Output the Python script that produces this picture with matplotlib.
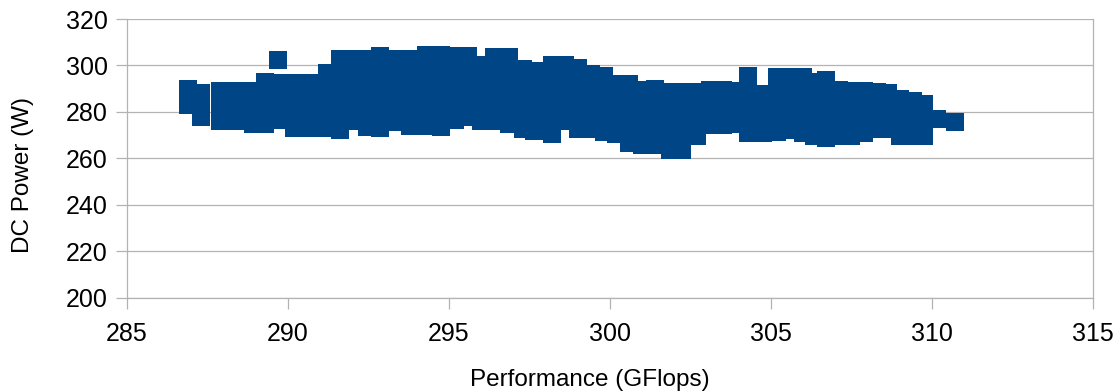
import numpy as np
import matplotlib
matplotlib.use("Agg")
import matplotlib.pyplot as plt

plt.rcParams["font.family"] = ["Liberation Sans", "DejaVu Sans"]

# Performance (GFlops) of each group of runs, and the DC power (W) measured for them
perf_cols = [
    286.9, 287.3, 287.9, 288.4, 288.9, 289.3, 289.7, 290.2, 290.7, 291.2,
    291.6, 292.0, 292.45, 292.85, 293.3, 293.8, 294.3, 294.75, 295.2, 295.6,
    296.0, 296.4, 296.85, 297.3, 297.65, 298.2, 298.6, 299.0, 299.4, 299.8,
    300.2, 300.6, 301.0, 301.4, 301.85, 302.25, 302.7, 303.1, 303.5, 303.9,
    304.3, 304.75, 305.2, 305.6, 306.0, 306.35, 306.7, 307.1, 307.5, 307.9,
    308.3, 308.65, 309.0, 309.4, 309.75, 310.15, 310.7,
]
power_cols = [
    [289.7, 283.0],
    [288.0, 282.5, 277.7],
    [289.0, 283.0, 276.2],
    [289.0, 282.5, 276.0],
    [289.0, 282.0, 275.0],
    [292.7, 286.0, 280.0, 274.9],
    [302.4, 292.5, 286.5, 281.0, 276.5],
    [292.4, 286.0, 279.5, 273.0],
    [292.4, 286.0, 279.5, 273.0],
    [296.7, 290.0, 284.0, 278.5, 273.0],
    [303.0, 296.5, 290.0, 284.0, 278.0, 272.4],
    [303.0, 296.5, 290.0, 283.0, 276.0],
    [303.0, 296.5, 290.0, 286.0, 280.0, 273.5],
    [303.9, 297.0, 290.5, 284.0, 278.5, 273.3],
    [302.6, 296.0, 289.5, 282.5, 275.5],
    [302.6, 296.0, 289.5, 283.0, 279.0, 274.1],
    [304.5, 298.0, 291.5, 285.0, 279.5, 274.1],
    [304.5, 297.5, 291.0, 284.5, 278.5, 273.6],
    [303.9, 297.0, 290.0, 283.0, 276.4],
    [303.9, 297.0, 290.5, 284.0, 278.0],
    [300.2, 294.0, 288.0, 282.0, 276.2],
    [303.6, 297.0, 290.0, 283.0, 276.2],
    [303.6, 297.0, 290.5, 284.0, 279.5, 274.7],
    [298.5, 292.0, 285.5, 279.0, 272.6],
    [297.6, 291.0, 284.5, 277.5, 271.7],
    [300.2, 293.5, 287.0, 281.0, 275.5, 270.4],
    [300.2, 293.5, 287.0, 281.0, 276.0],
    [299.0, 292.5, 286.0, 279.5, 272.6],
    [296.4, 290.0, 284.0, 278.0, 272.6],
    [295.5, 289.5, 283.5, 277.0, 271.3],
    [292.1, 286.0, 280.0, 275.0, 270.5],
    [292.1, 285.5, 279.0, 272.5, 266.6],
    [289.3, 283.0, 277.0, 271.5, 265.9],
    [290.1, 284.0, 278.0, 272.0, 265.9],
    [288.4, 282.0, 276.0, 270.0, 263.8],
    [288.4, 282.0, 275.5, 269.5, 263.8],
    [288.4, 282.5, 276.0, 269.6],
    [289.4, 283.0, 278.0, 274.3],
    [289.4, 283.5, 278.5, 274.3],
    [289.0, 283.0, 278.0, 275.0],
    [295.3, 289.0, 283.0, 277.0, 270.9],
    [287.6, 281.5, 275.5, 270.9],
    [295.0, 289.0, 283.0, 277.0, 271.3],
    [294.9, 288.5, 282.0, 276.0, 272.1],
    [294.9, 288.5, 282.0, 276.0, 270.9],
    [293.1, 287.0, 281.0, 275.0, 269.5],
    [293.8, 287.5, 281.0, 274.5, 268.7],
    [289.3, 283.0, 276.5, 269.5],
    [289.0, 283.0, 276.5, 269.8],
    [289.0, 283.0, 277.0, 271.0],
    [288.4, 282.5, 277.0, 272.6],
    [288.1, 282.0, 276.5, 272.6],
    [285.5, 279.5, 274.0, 269.8],
    [284.6, 278.5, 273.5, 269.8],
    [283.5, 277.5, 273.0, 269.8],
    [276.9],
    [275.7],
]

x_ticks = [285, 290, 295, 300, 305, 310, 315]
y_ticks = [200, 220, 240, 260, 280, 300, 320]

perf = np.concatenate([[p] * len(ys) for p, ys in zip(perf_cols, power_cols)])
power = np.concatenate(power_cols)

grey = "#b3b3b3"
fig = plt.figure(figsize=(11.18, 3.91), dpi=100)
ax = fig.add_axes([0.1136, 0.2379, 0.8640, 0.7135])

ax.scatter(perf, power, marker="s", s=185, color="#004586", linewidths=0, zorder=3)

ax.set_xlim(285, 315)
ax.set_ylim(200, 320)
ax.set_xticks(x_ticks)
ax.set_yticks(y_ticks)
ax.grid(axis="y", color=grey, linewidth=0.9)
ax.set_axisbelow(True)
for side in ["left", "bottom", "right"]:
    ax.spines[side].set_color(grey)
    ax.spines[side].set_linewidth(0.9)
ax.spines["top"].set_visible(False)
ax.tick_params(axis="both", colors=grey, length=8, width=0.9, labelsize=18,
               labelcolor="black")
ax.tick_params(axis="y", pad=6)
ax.tick_params(axis="x", pad=9)

# axis titles sit where the chart layout put them, not centred on the axes
fig.text(0.5273, 0.028, "Performance (GFlops)", fontsize=17.5, ha="center", va="center")
fig.text(0.021, 0.552, "DC Power (W)", fontsize=17.5, rotation=90, ha="center", va="center")

fig.savefig("out.png", dpi=100)
